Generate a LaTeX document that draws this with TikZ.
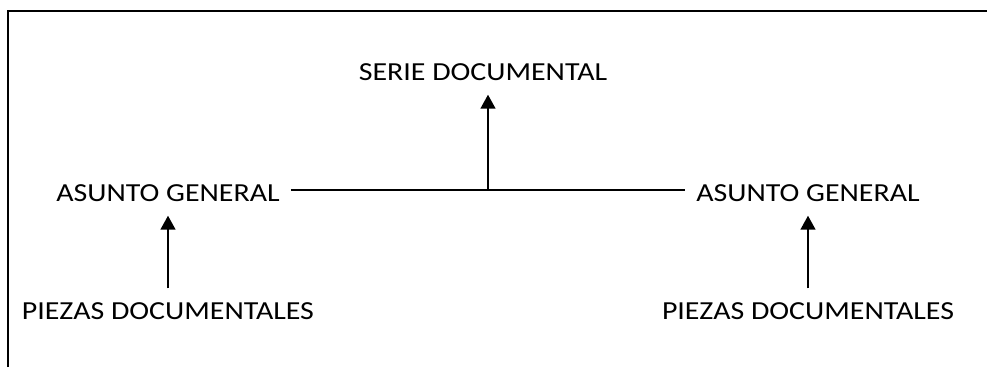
\documentclass[tikz,border=0pt]{standalone}
\usepackage{fontspec}
\setmainfont{Carlito}[FakeStretch=1.15]
\usepackage{tikz}
\usetikzlibrary{arrows.meta}

\begin{document}
\begin{tikzpicture}[x=1pt,y=1pt,
  label/.style={font=\fontsize{26}{31}\selectfont, inner xsep=11pt, inner ysep=14pt},
  link/.style={line width=1.6pt},
  uparrow/.style={line width=1.6pt, -{Triangle[length=14pt,width=15pt]}}]
\useasboundingbox (0,0) rectangle (987,367);
\draw[line width=2pt] (8,0) -- (8,356) -- (987,356);
\node[label] (serie) at (483,295) {SERIE DOCUMENTAL};
\node[label] (asuntoL) at (168,174) {ASUNTO GENERAL};
\node[label] (asuntoR) at (808,174) {ASUNTO GENERAL};
\node[label] (piezasL) at (168,56) {PIEZAS DOCUMENTALES};
\node[label] (piezasR) at (808,56) {PIEZAS DOCUMENTALES};
\draw[link] ([yshift=3pt]asuntoL.east) -- coordinate (mid) ([yshift=3pt]asuntoR.west);
\draw[uparrow] (mid) -- (mid |- serie.south);
\draw[uparrow] (piezasL.north) -- (asuntoL.south);
\draw[uparrow] (piezasR.north) -- (asuntoR.south);
\end{tikzpicture}
\end{document}
